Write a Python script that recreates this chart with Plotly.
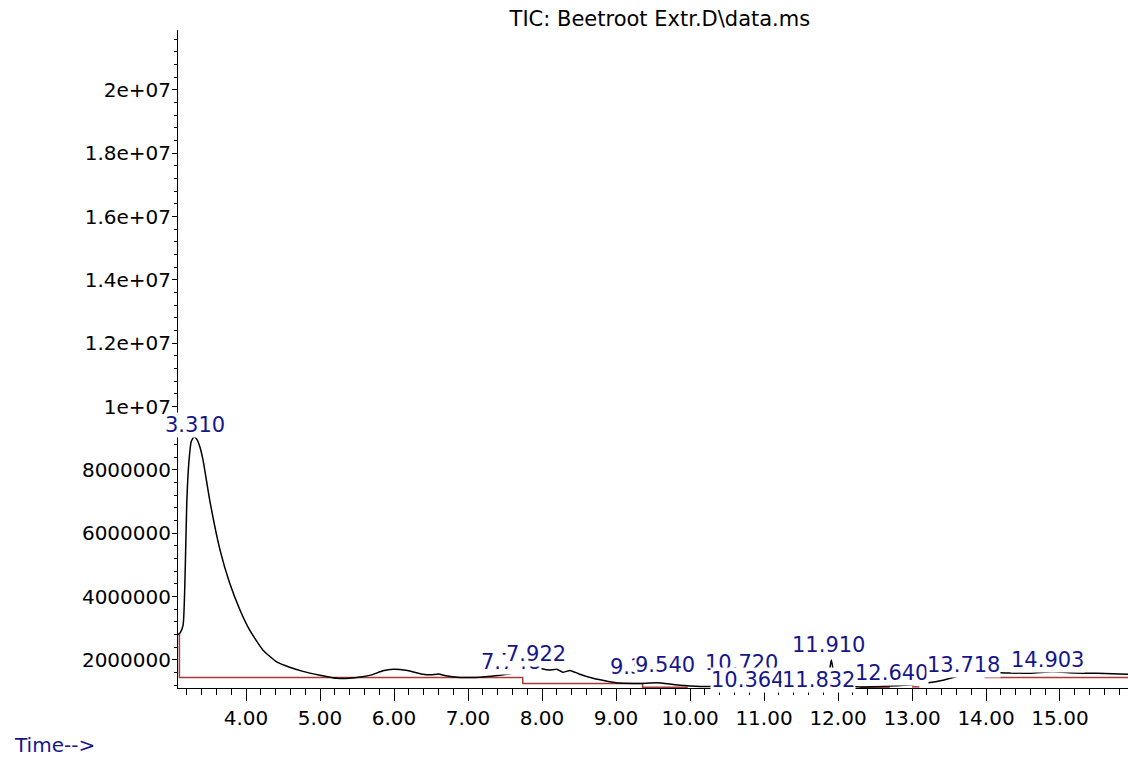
import plotly.graph_objects as go

# Total ion chromatogram (time in min, abundance)
time_min = [3.081, 3.11, 3.15, 3.18, 3.20, 3.23, 3.26, 3.30, 3.34, 3.38, 3.42, 3.51, 3.65, 3.78,
            3.92, 4.05, 4.23, 4.42, 4.59, 4.77, 5.00, 5.23, 5.40, 5.55, 5.70, 5.85, 5.99, 6.18,
            6.39, 6.50, 6.60, 6.70, 6.89, 7.10, 7.26, 7.43, 7.61, 7.74, 7.85, 7.92, 8.00, 8.10,
            8.20, 8.28, 8.38, 8.51, 8.69, 8.88, 9.05, 9.32, 9.55, 9.80, 10.0, 10.3, 10.72, 11.0,
            11.5, 11.80, 11.88, 11.91, 11.94, 11.98, 12.3, 12.7, 13.0, 13.4, 13.72, 13.9, 14.0,
            14.3, 14.6, 14.9, 15.2, 15.5, 15.919]
abundance = [2.80e6, 2.86e6, 3.10e6, 5.0e6, 7.0e6, 8.3e6, 8.9e6, 9.05e6, 8.95e6, 8.7e6, 8.3e6,
             7.04e6, 5.46e6, 4.42e6, 3.57e6, 2.94e6, 2.31e6, 1.93e6, 1.77e6, 1.64e6, 1.52e6,
             1.42e6, 1.42e6, 1.46e6, 1.53e6, 1.66e6, 1.71e6, 1.67e6, 1.55e6, 1.53e6, 1.56e6,
             1.50e6, 1.45e6, 1.45e6, 1.48e6, 1.52e6, 1.58e6, 1.62e6, 1.72e6, 1.78e6, 1.72e6,
             1.68e6, 1.71e6, 1.61e6, 1.67e6, 1.55e6, 1.42e6, 1.33e6, 1.27e6, 1.26e6, 1.28e6,
             1.22e6, 1.18e6, 1.16e6, 1.22e6, 1.14e6, 1.13e6, 1.20e6, 1.6e6, 2.0e6, 1.6e6, 1.2e6,
             1.15e6, 1.18e6, 1.22e6, 1.35e6, 1.55e6, 1.60e6, 1.61e6, 1.59e6, 1.58e6, 1.63e6,
             1.59e6, 1.58e6, 1.55e6]

# Integration baselines (None separates segments)
base_t = [3.10, 3.10, 7.74, 7.74, 9.36, 9.36, 9.97, None,
          10.3, 11.5, None, 11.8, 12.2, None, 12.3, 12.7, None, 13.0, 13.1, None, 13.98, 15.919]
base_v = [2.84e6, 1.45e6, 1.45e6, 1.26e6, 1.26e6, 1.14e6, 1.14e6, None,
          1.125e6, 1.125e6, None, 1.125e6, 1.125e6, None, 1.14e6, 1.14e6, None, 1.15e6, 1.15e6,
          None, 1.45e6, 1.45e6]

# Peak labels: text, x (min), y (abundance of label centre)
peak_text = ["3.310", "7.748", "7.922", "9.320", "9.540", "10.720", "10.364", "11.832",
             "11.910", "12.640", "13.718", "14.903"]
peak_x = [3.31, 7.58, 7.92, 9.33, 9.66, 10.70, 10.78, 11.74, 11.87, 12.72, 13.69, 14.83]
peak_y = [9.42e6, 1.93e6, 2.18e6, 1.77e6, 1.84e6, 1.90e6, 1.36e6, 1.36e6, 2.46e6, 1.58e6,
          1.84e6, 2.00e6]

x_ticks = [4, 5, 6, 7, 8, 9, 10, 11, 12, 13, 14, 15]
x_ticktext = ["4.00", "5.00", "6.00", "7.00", "8.00", "9.00", "10.00", "11.00", "12.00",
              "13.00", "14.00", "15.00"]
y_ticks = [2e6, 4e6, 6e6, 8e6, 1e7, 1.2e7, 1.4e7, 1.6e7, 1.8e7, 2e7]
y_ticktext = ["2000000", "4000000", "6000000", "8000000", "1e+07", "1.2e+07", "1.4e+07",
              "1.6e+07", "1.8e+07", "2e+07"]

FONT = "DejaVu Sans, Liberation Sans, sans-serif"
NAVY = "#16168c"

fig = go.Figure()
fig.add_trace(go.Scatter(x=base_t, y=base_v, mode="lines", connectgaps=False,
                         line=dict(color="#a83a3a", width=1.5), hoverinfo="skip"))
fig.add_trace(go.Scatter(x=time_min, y=abundance, mode="lines",
                         line=dict(color="black", width=1.5, shape="spline", smoothing=0.5)))

for t, x, y in zip(peak_text, peak_x, peak_y):
    fig.add_annotation(x=x, y=y, text=t, showarrow=False, xanchor="center", yanchor="middle",
                       font=dict(family=FONT, size=21, color=NAVY), bgcolor="white", borderpad=0)

fig.add_annotation(xref="paper", yref="paper", x=-0.175, y=-0.087, text="Time-->",
                   showarrow=False, xanchor="left", yanchor="middle",
                   font=dict(family=FONT, size=20, color=NAVY))

fig.update_layout(
    width=1128, height=759,
    margin=dict(l=178, r=0, t=30, b=71),
    paper_bgcolor="white", plot_bgcolor="white",
    showlegend=False,
    title=dict(text="TIC: Beetroot Extr.D\\data.ms", x=0.585, xref="container",
               y=0.976, yref="container", xanchor="center", yanchor="middle",
               font=dict(family=FONT, size=21, color="black")),
    font=dict(family=FONT, size=21, color="black"),
)
fig.update_xaxes(range=[3.081, 15.919], tickvals=x_ticks, ticktext=x_ticktext,
                 showgrid=False, zeroline=False, showline=True, linecolor="black", linewidth=1,
                 ticks="outside", ticklen=12, tickcolor="black", tickwidth=1,
                 minor=dict(dtick=0.2, tick0=0, ticks="outside", ticklen=6, tickcolor="black"),
                 tickfont=dict(family=FONT, size=20, color="black"))
fig.update_yaxes(range=[1.115e6, 21.89e6], tickvals=y_ticks, ticktext=y_ticktext,
                 showgrid=False, zeroline=False, showline=True, linecolor="black", linewidth=1,
                 ticks="outside", ticklen=5, tickcolor="black", tickwidth=1,
                 ticklabelstandoff=-3,
                 minor=dict(dtick=4e5, tick0=0, ticks="outside", ticklen=3, tickcolor="black"),
                 tickfont=dict(family=FONT, size=20, color="black"))

fig.write_html("out.html")
